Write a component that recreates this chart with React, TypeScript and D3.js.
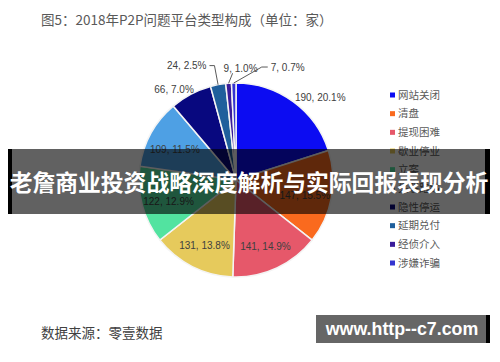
import * as d3 from 'd3';
import { useEffect, useRef } from 'react';

// 平台类型与数量（单位：家）
const categories = ['网站关闭', '清盘', '提现困难', '歇业停业', '立案', '失联跑路', '隐性停运', '延期兑付', '经侦介入', '涉嫌诈骗'];
const counts = [190, 147, 141, 131, 122, 109, 66, 24, 9, 7];
const percents = ['20.1%', '15.5%', '14.9%', '13.8%', '12.9%', '11.5%', '7.0%', '2.5%', '1.0%', '0.7%'];
const colors = ['#0c0cf2', '#fa6a1e', '#e6586a', '#e6ca5c', '#52e3a0', '#4ea0e4', '#08087f', '#1f5f9c', '#3a1c9a', '#3434d0'];

const title = '图5：2018年P2P问题平台类型构成（单位：家）';
const source = '数据来源：零壹数据';
const banner = '老詹商业投资战略深度解析与实际回报表现分析';
const site = 'www.http--c7.com';

const cjk = '"Noto Sans CJK SC", "Noto Sans", sans-serif';
const latin = '"Liberation Sans", Arial, sans-serif';

export default function App() {
  const ref = useRef<HTMLDivElement>(null);

  useEffect(() => {
    if (!ref.current) return;
    const width = 500;
    const height = 362;
    const cx = 236;
    const cy = 180;
    const r = 97;

    const svg = d3
      .create('svg')
      .attr('width', width)
      .attr('height', height)
      .style('position', 'absolute')
      .style('left', 0)
      .style('top', 0)
      .style('background', '#fff');

    // タイトル
    svg
      .append('text')
      .attr('x', 41)
      .attr('y', 25)
      .attr('fill', '#595959')
      .attr('font-family', cjk)
      .attr('font-size', 13.5)
      .text(title);

    const data = counts.map((v, i) => ({ name: categories[i], value: v, pct: percents[i], color: colors[i] }));
    type D = (typeof data)[number];

    const pie = d3.pie<D>().value((d) => d.value).sort(null);
    const arcs = pie(data);
    const arc = d3.arc<d3.PieArcDatum<D>>().innerRadius(0).outerRadius(r);

    const g = svg.append('g').attr('transform', `translate(${cx},${cy})`);
    g.selectAll('path')
      .data(arcs)
      .join('path')
      .attr('d', arc)
      .attr('fill', (d) => d.data.color)
      .attr('stroke', '#f4f4f4')
      .attr('stroke-width', 1.5);

    // ラベル位置
    const polar = (a: number, rr: number): [number, number] => [rr * Math.sin(a), -rr * Math.cos(a)];
    const mid = (d: d3.PieArcDatum<D>) => (d.startAngle + d.endAngle) / 2;
    const labelText = (d: d3.PieArcDatum<D>) => `${d.data.value}, ${d.data.pct}`;

    const labels = g.append('g').attr('font-family', latin).attr('font-size', 10).attr('fill', '#404040');

    arcs.forEach((d, i) => {
      const a = mid(d);
      if (i >= 1 && i <= 5) {
        const [x, y] = polar(a, 0.72 * r);
        labels.append('text').attr('x', x).attr('y', y + 3).attr('text-anchor', 'middle').attr('dy', '0.35em').text(labelText(d));
      } else if (i === 0) {
        const [x, y] = polar(a, 1.1 * r);
        labels.append('text').attr('x', x - 4).attr('y', y + 4).attr('text-anchor', 'start').attr('dy', '0.35em').text(labelText(d));
      } else if (i === 6) {
        const [x, y] = polar(a, r);
        labels.append('text').attr('x', x + 3).attr('y', y - 5).attr('text-anchor', 'end').attr('dy', '0.35em').text(labelText(d));
      }
    });

    // 小さいスライスの引き出し線
    const leader = g.append('g').attr('stroke', '#595959').attr('stroke-width', 1).attr('fill', 'none');
    {
      const d = arcs[7];
      const p0 = polar(mid(d), r);
      const p1 = polar(mid(d), 1.2 * r);
      leader.append('polyline').attr('points', [p0, p1, [p1[0] - 5, p1[1]]].map((p) => p.join(',')).join(' '));
      labels.append('text').attr('x', p1[0] - 8).attr('y', p1[1]).attr('dy', '0.35em').attr('text-anchor', 'end').text(labelText(d));
    }
    {
      const d = arcs[8];
      const p0 = polar(mid(d), r);
      const p1: [number, number] = [p0[0] + 4, p0[1] - 10];
      leader.append('polyline').attr('points', [p0, p1].map((p) => p.join(',')).join(' '));
      labels.append('text').attr('x', p1[0] - 9).attr('y', p1[1] - 5).attr('dy', '0.35em').attr('text-anchor', 'start').text(labelText(d));
    }
    {
      const d = arcs[9];
      const p0 = polar(mid(d), r);
      const p1: [number, number] = [p0[0] + 28, p0[1] - 16];
      leader.append('polyline').attr('points', [p0, p1, [p1[0] + 6, p1[1]]].map((p) => p.join(',')).join(' '));
      labels.append('text').attr('x', p1[0] + 9).attr('y', p1[1]).attr('dy', '0.35em').attr('text-anchor', 'start').text(labelText(d));
    }

    // 凡例
    const ly = d3.scalePoint<string>().domain(categories).range([95, 263]);
    const legend = svg.append('g').attr('font-family', cjk).attr('font-size', 10.5).attr('fill', '#595959');
    const item = legend
      .selectAll('g')
      .data(data)
      .join('g')
      .attr('transform', (d) => `translate(390,${ly(d.name)})`);
    item.append('rect').attr('x', 0).attr('y', -2.5).attr('width', 5).attr('height', 5).attr('fill', (d) => d.color);
    item.append('text').attr('x', 8).attr('dy', '0.35em').text((d) => d.name);

    // 出典
    svg
      .append('text')
      .attr('x', 41)
      .attr('y', 338)
      .attr('fill', '#404040')
      .attr('font-family', cjk)
      .attr('font-size', 13.5)
      .text(source);

    // 帯
    svg.append('rect').attr('x', 8).attr('y', 149).attr('width', 482).attr('height', 65).attr('fill', 'rgba(0,0,0,0.62)');
    svg.append('rect').attr('x', 8).attr('y', 149).attr('width', 4).attr('height', 65).attr('fill', '#000');
    svg.append('rect').attr('x', 485).attr('y', 149).attr('width', 5).attr('height', 65).attr('fill', '#000');
    svg
      .append('text')
      .attr('x', 249)
      .attr('y', 183)
      .attr('dy', '0.35em')
      .attr('text-anchor', 'middle')
      .attr('fill', '#fff')
      .attr('font-family', cjk)
      .attr('font-weight', 700)
      .attr('font-size', 22.8)
      .text(banner);

    // 右下のボックス
    svg.append('rect').attr('x', 316).attr('y', 315).attr('width', 174).attr('height', 28).attr('fill', '#666');
    svg.append('rect').attr('x', 486).attr('y', 315).attr('width', 4).attr('height', 28).attr('fill', '#000');
    svg
      .append('text')
      .attr('x', 402)
      .attr('y', 329)
      .attr('dy', '0.35em')
      .attr('text-anchor', 'middle')
      .attr('fill', '#fff')
      .attr('font-family', latin)
      .attr('font-weight', 700)
      .attr('font-size', 17.8)
      .text(site);

    ref.current.innerHTML = '';
    ref.current.appendChild(svg.node()!);
  }, [ref]);

  return <div ref={ref} />;
}
